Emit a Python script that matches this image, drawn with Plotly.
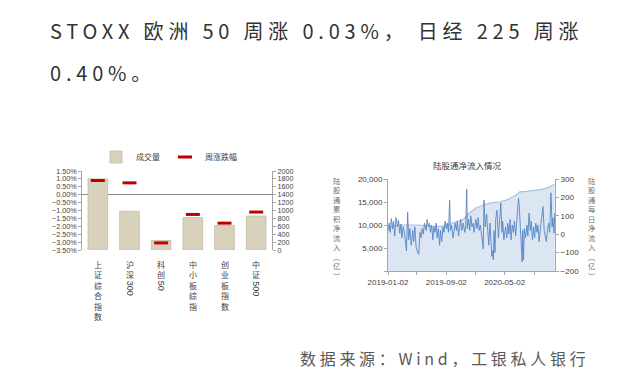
import re
import plotly.graph_objects as go

# ---------------- text ----------------
title_line1 = "STOXX 欧洲 50 周涨 0.03%， 日经 225 周涨"
title_line2 = "0.40%。"
source_text = "数据来源：Wind，工银私人银行"

# ---------------- left chart data ----------------
categories = ["上证综合指数", "沪深300", "科创50", "中小板综指", "创业板指数", "中证500"]
volume = [1800, 980, 240, 820, 620, 860]            # 成交量 (right axis)
weekly_change = [0.90, 0.75, -3.05, -1.25, -1.80, -1.10]  # 周涨跌幅 (%)

# ---------------- right chart data ----------------
chart2_title = "陆股通净流入情况"
left_title2 = "陆股通累积净流入︵亿︶"
right_title2 = "陆股通每日净流入︵亿︶"
date_tick_vals = ["2019-01-02", "2019-05-02", "2019-09-02", "2020-01-02", "2020-05-02", "2020-09-02"]
date_tick_text = ["2019-01-02", "", "2019-09-02", "", "2020-05-02", ""]

cum_dates = ["2019-01-02", "2019-01-20", "2019-02-17", "2019-05-12", "2019-06-23", "2019-08-18",
             "2019-09-08", "2019-09-29", "2019-11-09", "2019-12-07", "2020-01-04", "2020-02-01",
             "2020-03-07", "2020-04-11", "2020-05-09", "2020-06-20", "2020-07-04", "2020-08-01",
             "2020-10-10", "2020-11-07", "2020-11-27"]
cum_values = [8800, 9800, 10000, 10000, 9700, 9700, 10000, 10500, 11100, 12600, 13700, 14300,
              14800, 15000, 15400, 16500, 17200, 17300, 17800, 18300, 18900]

daily_dates = [
    "2019-01-02", "2019-01-07", "2019-01-11", "2019-01-16", "2019-01-21", "2019-01-25", "2019-01-30",
    "2019-02-04", "2019-02-11", "2019-02-15", "2019-02-20", "2019-02-25", "2019-03-01", "2019-03-06",
    "2019-03-11", "2019-03-15", "2019-03-20", "2019-03-25", "2019-03-29", "2019-04-03", "2019-04-09",
    "2019-04-15", "2019-04-19", "2019-04-24", "2019-04-29", "2019-05-06", "2019-05-10", "2019-05-15",
    "2019-05-20", "2019-05-24", "2019-05-29", "2019-06-03", "2019-06-10", "2019-06-14", "2019-06-19",
    "2019-06-24", "2019-06-28", "2019-07-03", "2019-07-08", "2019-07-12", "2019-07-17", "2019-07-22",
    "2019-07-26", "2019-07-31", "2019-08-05", "2019-08-09", "2019-08-14", "2019-08-19", "2019-08-23",
    "2019-08-28", "2019-09-02", "2019-09-06", "2019-09-11", "2019-09-16", "2019-09-19", "2019-09-24",
    "2019-09-30", "2019-10-09", "2019-10-14", "2019-10-18", "2019-10-23", "2019-10-28", "2019-11-01",
    "2019-11-06", "2019-11-12", "2019-11-18", "2019-11-22", "2019-11-26", "2019-11-29", "2019-12-04",
    "2019-12-09", "2019-12-13", "2019-12-18", "2019-12-23", "2019-12-27", "2020-01-03", "2020-01-08",
    "2020-01-13", "2020-01-17", "2020-01-22", "2020-02-03", "2020-02-06", "2020-02-11", "2020-02-17",
    "2020-02-21", "2020-02-26", "2020-03-02", "2020-03-06", "2020-03-10", "2020-03-13", "2020-03-16",
    "2020-03-19", "2020-03-23", "2020-03-26", "2020-03-31", "2020-04-06", "2020-04-10", "2020-04-16",
    "2020-04-21", "2020-04-24", "2020-04-29", "2020-05-06", "2020-05-11", "2020-05-15", "2020-05-20",
    "2020-05-25", "2020-05-29", "2020-06-03", "2020-06-08", "2020-06-12", "2020-06-17", "2020-06-22",
    "2020-06-29", "2020-07-02", "2020-07-07", "2020-07-10", "2020-07-14", "2020-07-16", "2020-07-20",
    "2020-07-23", "2020-07-28", "2020-08-03", "2020-08-07", "2020-08-12", "2020-08-17", "2020-08-21",
    "2020-08-26", "2020-08-31", "2020-09-04", "2020-09-09", "2020-09-14", "2020-09-18", "2020-09-23",
    "2020-09-28", "2020-10-09", "2020-10-14", "2020-10-19", "2020-10-23", "2020-10-28", "2020-11-02",
    "2020-11-06", "2020-11-11", "2020-11-16", "2020-11-19", "2020-11-24", "2020-11-27"]
daily_values = [
    20, 60, 10, 85, 30, 70, -10,
    90, 40, 75, 5, 55, -20, 40,
    10, -50, -90, 120, -30, 30, -60,
    20, -40, 40, -70, -100, -110, 10,
    -20, 30, 0, 60, 20, 80, 40,
    60, 10, 50, -30, 40, 10, 60,
    -20, 30, -60, 20, -40, 40, 10,
    70, 30, 60, 10, 185, 20, 50,
    -20, 60, 20, 70, -10, 40, 80,
    20, 60, 10, 40, 245, 30, 80,
    20, 100, 40, 60, 10, 80, 30,
    90, 20, 50, -80, 185, 40, 110,
    0, -60, 60, -40, -120, -90, -140,
    20, -100, 80, 130, -20, 60, 170,
    10, 70, -30, 40, -20, 60, 0,
    80, -30, 50, 10, 70, -10, 60,
    195, 150, 40, -60, -150, 20, -140,
    30, -20, 50, -10, 115, 20, 70,
    -30, 40, -20, 60, 10, 50, -40,
    30, 150, 20, -15, -40, 30, 60,
    10, 225, 40, 90, 5, 115]

# ---------------- styles ----------------
CJK = "Noto Sans CJK SC"
AX = "#A6A6A6"
TXT = "#404040"
W, H = 640, 379

fig = go.Figure()

# left chart: bars on base axis (right side), markers on overlay axis (left side)
fig.add_trace(go.Bar(
    x=categories, y=volume, name="成交量", xaxis="x", yaxis="y",
    marker=dict(color="#D8D2BC", line=dict(color="#C4BC9E", width=0.8)),
    width=0.62))
fig.add_trace(go.Scatter(
    x=categories, y=weekly_change, name="周涨跌幅", xaxis="x", yaxis="y2",
    mode="markers",
    marker=dict(symbol="line-ew", size=10, color="#C00000",
                line=dict(color="#C00000", width=3))))

# right chart
fig.add_trace(go.Scatter(
    x=cum_dates, y=cum_values, xaxis="x3", yaxis="y3", mode="lines",
    fill="tozeroy", fillcolor="#DCE6F2", line=dict(color="#A9C0DF", width=1.2),
    showlegend=False))
fig.add_trace(go.Scatter(
    x=daily_dates, y=daily_values, xaxis="x3", yaxis="y4", mode="lines",
    line=dict(color="#5585C6", width=0.9), showlegend=False))

axis_common = dict(showline=True, linecolor=AX, linewidth=1, ticks="outside",
                   tickcolor=AX, ticklen=3, showgrid=False, automargin=False)

fig.update_layout(
    width=W, height=H, margin=dict(l=0, r=0, t=0, b=0, autoexpand=False),
    paper_bgcolor="white", plot_bgcolor="rgba(0,0,0,0)",
    font=dict(family=CJK, color=TXT),
    showlegend=True,
    legend=dict(orientation="h", x=96 / W, xanchor="left", y=1 - 157 / H, yanchor="middle",
                font=dict(family=CJK, size=8, color="#404040"), bgcolor="rgba(0,0,0,0)",
                itemwidth=30, tracegroupgap=0),
    xaxis=dict(domain=[82 / W, 272 / W], range=[-0.5, 5.5], showticklabels=False,
               showline=False, ticks="", showgrid=False, zeroline=False, anchor="y",
               automargin=False),
    yaxis=dict(domain=[1 - 250 / H, 1 - 171 / H], range=[0, 2000], dtick=200,
               side="right", anchor="x", zeroline=False,
               tickfont=dict(family="Liberation Sans", size=7.2, color=TXT), **axis_common),
    yaxis2=dict(overlaying="y", side="left", anchor="x", range=[-3.5, 1.5], dtick=0.5, tick0=0,
                tickformat=".2f", ticksuffix="%", zeroline=True, zerolinecolor="#8C8C8C",
                zerolinewidth=1,
                tickfont=dict(family="Liberation Sans", size=7.2, color=TXT), **axis_common),
    xaxis3=dict(domain=[388 / W, 555 / W], anchor="y3", type="date",
                range=["2019-01-02", "2020-11-28"], tickvals=date_tick_vals, ticktext=date_tick_text,
                tickfont=dict(family="Liberation Sans", size=8, color=TXT), zeroline=False,
                **axis_common),
    yaxis3=dict(domain=[1 - 271 / H, 1 - 179 / H], anchor="x3", range=[0, 20000],
                tickvals=[0, 5000, 10000, 15000, 20000],
                ticktext=["", "5,000", "10,000", "15,000", "20,000"], zeroline=False,
                tickfont=dict(family="Liberation Sans", size=8, color=TXT), **axis_common),
    yaxis4=dict(overlaying="y3", side="right", anchor="x3", range=[-200, 300], dtick=100,
                zeroline=False,
                tickfont=dict(family="Liberation Sans", size=8, color=TXT), **axis_common),
)

ann = []
# headline
ann.append(dict(text='<span style="letter-spacing:4.8px">' + title_line1 + '</span>',
                x=48 / W, y=1 - 30 / H, xref="paper", yref="paper", xanchor="left",
                yanchor="middle", showarrow=False,
                font=dict(family=CJK, size=20, color="#333333")))
ann.append(dict(text='<span style="letter-spacing:4.8px">' + title_line2 + '</span>',
                x=48 / W, y=1 - 72 / H, xref="paper", yref="paper", xanchor="left",
                yanchor="middle", showarrow=False,
                font=dict(family=CJK, size=20, color="#333333")))
# source
ann.append(dict(text='<span style="letter-spacing:3.7px">' + source_text + '</span>',
                x=298 / W, y=1 - 358 / H, xref="paper", yref="paper", xanchor="left",
                yanchor="middle", showarrow=False,
                font=dict(family=CJK, size=16, color="#595959")))

# category labels (vertical text) for left chart
LINE = 10.4
for cat in categories:
    m = re.match(r"^(\D+)(\d*)$", cat)
    han, digits = m.group(1), m.group(2)
    top = 257
    ann.append(dict(text="<br>".join(han), x=cat, xref="x", y=1 - top / H, yref="paper",
                    xanchor="center", yanchor="top", showarrow=False,
                    font=dict(family=CJK, size=8, color=TXT)))
    if digits:
        ann.append(dict(text=digits, x=cat, xref="x", y=1 - (top + len(han) * LINE + 1) / H,
                        yref="paper", xanchor="center", yanchor="top", showarrow=False,
                        textangle=90, font=dict(family="Liberation Sans", size=9, color=TXT)))

# right chart titles
ann.append(dict(text=chart2_title, x=467 / W, y=1 - 165 / H, xref="paper", yref="paper",
                xanchor="center", yanchor="middle", showarrow=False,
                font=dict(family=CJK, size=8.5, color="#404040")))
ann.append(dict(text="<br>".join(left_title2), x=337 / W, y=1 - 228 / H, xref="paper",
                yref="paper", xanchor="center", yanchor="middle", showarrow=False,
                font=dict(family=CJK, size=7.3, color="#707070")))
ann.append(dict(text="<br>".join(right_title2), x=592 / W, y=1 - 228 / H, xref="paper",
                yref="paper", xanchor="center", yanchor="middle", showarrow=False,
                font=dict(family=CJK, size=7.3, color="#707070")))

fig.update_layout(annotations=ann)
fig.write_html("out.html")
